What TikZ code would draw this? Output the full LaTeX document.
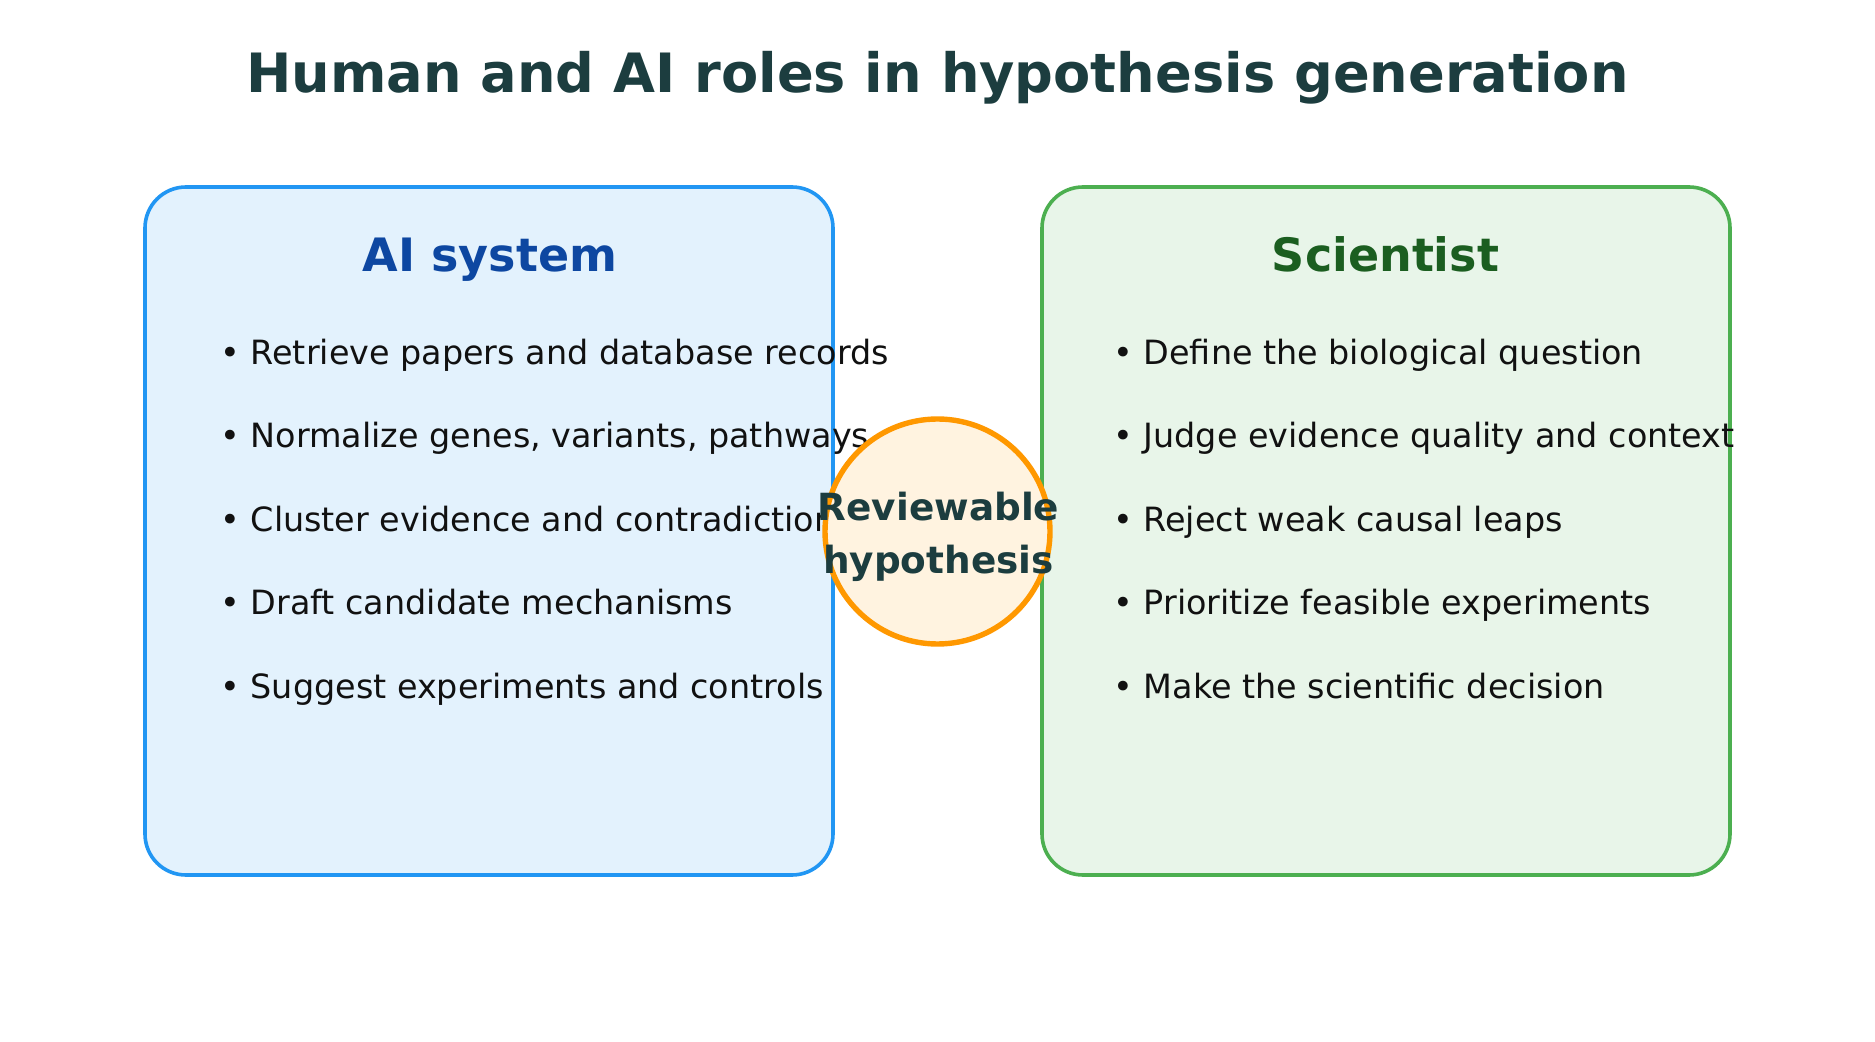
\documentclass[tikz,border=0pt]{standalone}
\usepackage{fontspec}
\setmainfont{DejaVu Sans}
\definecolor{titlecol}{HTML}{1C3D3F}
\definecolor{aifill}{HTML}{E3F2FD}
\definecolor{aistroke}{HTML}{2196F3}
\definecolor{aititle}{HTML}{0D47A1}
\definecolor{scfill}{HTML}{E8F5E9}
\definecolor{scstroke}{HTML}{4CAF50}
\definecolor{sctitle}{HTML}{1B5E20}
\definecolor{hypfill}{HTML}{FFF3E0}
\definecolor{hypstroke}{HTML}{FF9800}
\definecolor{bodytext}{HTML}{111111}
\begin{document}
\begin{tikzpicture}[x=0.5pt,y=-0.5pt,
  panel/.style={rectangle, rounded corners=20.5pt, line width=1.8pt, minimum width=344pt, minimum height=344pt, inner sep=0pt},
  paneltitle/.style={anchor=base, inner sep=0pt, font=\fontsize{23pt}{27pt}\selectfont\bfseries},
  bullet/.style={anchor=base west, inner sep=0pt, text=bodytext, font=\fontsize{16.7pt}{20pt}\selectfont},
  hyptxt/.style={anchor=base, inner sep=0pt, text=titlecol, font=\fontsize{18.7pt}{22pt}\selectfont\bfseries}]
\useasboundingbox (0,0) rectangle (1875,1042);
\fill[white] (0,0) rectangle (1875,1042);
\node[anchor=base, inner sep=0pt, text=titlecol, font=\fontsize{27.1pt}{32pt}\selectfont\bfseries] (title) at (937.5,93) {Human and AI roles in hypothesis generation};
% panels
\node[panel, draw=aistroke, fill=aifill] (ai) at (489,531) {};
\node[panel, draw=scstroke, fill=scfill] (sc) at (1386,531) {};
\node[paneltitle, text=aititle] (aititle) at (490,271.5) {AI system};
\node[paneltitle, text=sctitle] (sctitle) at (1385.5,271.5) {Scientist};
% AI bullets
\node[bullet] (a1) at (220,364.5) {• Retrieve papers and database records};
\node[bullet] (a2) at (220,448) {• Normalize genes, variants, pathways};
\node[bullet] (a3) at (220,531.5) {• Cluster evidence and contradictions};
\node[bullet] (a4) at (220,615) {• Draft candidate mechanisms};
\node[bullet] (a5) at (220,698.5) {• Suggest experiments and controls};
% Scientist bullets
\node[bullet] (s1) at (1113,364.5) {• Define the biological question};
\node[bullet] (s2) at (1113,448) {• Judge evidence quality and context};
\node[bullet] (s3) at (1113,531.5) {• Reject weak causal leaps};
\node[bullet] (s4) at (1113,615) {• Prioritize feasible experiments};
\node[bullet] (s5) at (1113,698.5) {• Make the scientific decision};
% center circle
\node[circle, draw=hypstroke, fill=hypfill, line width=2.7pt, minimum size=112.5pt, inner sep=0pt] (hyp) at (937.5,531.5) {};
\node[hyptxt] (hyp1) at (938.5,520.7) {Reviewable};
\node[hyptxt] (hyp2) at (938.5,574) {hypothesis};
\end{tikzpicture}
\end{document}
